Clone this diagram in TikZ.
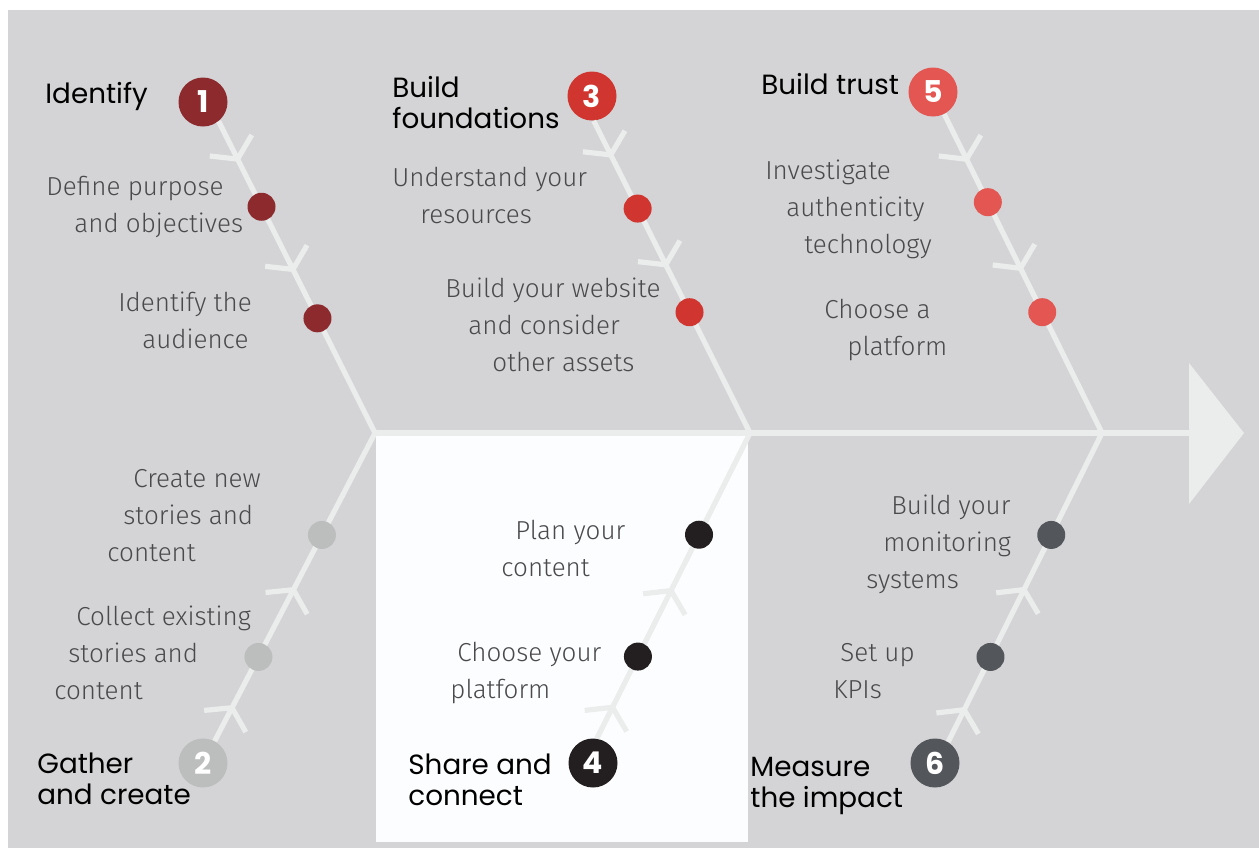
\documentclass[tikz,border=0pt]{standalone}
\usepackage{fontspec}
\setmainfont{Fira Sans Light}
\newfontfamily\headfont{Poppins}
\usetikzlibrary{arrows.meta,decorations.markings}
\definecolor{Grund}{HTML}{D4D4D6}
\definecolor{Feld}{HTML}{FCFDFE}
\definecolor{BoneC}{HTML}{EBECEC}
\definecolor{TxtC}{HTML}{4A4A4C}
\definecolor{C1}{HTML}{8C2A2E}
\definecolor{C2}{HTML}{BCBDBD}
\definecolor{C3}{HTML}{D0352F}
\definecolor{C4}{HTML}{231F20}
\definecolor{C5}{HTML}{E35651}
\definecolor{C6}{HTML}{53565A}
\tikzset{
  Bone/.style={color=BoneC, line width=2.6pt}, % Graeten
  Chev/.style 2 args={postaction=decorate, decoration={markings,
      mark=at position #1 with {\arrow{Straight Barb[angle=114:14pt]}},
      mark=at position #2 with {\arrow{Straight Barb[angle=114:14pt]}}}},
  Dot/.style={circle, inner sep=0pt, minimum size=14pt},
  Num/.style={circle, inner sep=0pt, minimum size=24.5pt, text=white,
      font=\headfont\bfseries\fontsize{15}{15}\selectfont},
  Head/.style={anchor=base west, inner sep=0pt, align=left,
      font=\headfont\fontsize{13.9}{15.5}\selectfont},
  Txt/.style={anchor=base west, inner sep=0pt, align=left, text=TxtC,
      font=\fontsize{13}{18.5}\selectfont}
}

\begin{document}
\begin{tikzpicture}[x=0.5pt, y=-0.5pt]
\useasboundingbox (0,0) rectangle (1259,848);

% background
\fill[Grund] (8,10) rectangle (1259,848);
\fill[Feld] (376,433) rectangle (748,842);

% numbered circles
\node[Num, fill=C1] (n1) at (203,102) {1};
\node[Num, fill=C2] (n2) at (203,763) {2};
\node[Num, fill=C3] (n3) at (592,96) {3};
\node[Num, fill=C4] (n4) at (593,763) {4};
\node[Num, fill=C5] (n5) at (933,92) {5};
\node[Num, fill=C6] (n6) at (935,763) {6};

% spine
\coordinate (j1) at (375,433);
\coordinate (j2) at (750,433);
\coordinate (j3) at (1102,433);
\coordinate (sp) at (1190,433);
\draw[Bone] (j1) -- (sp);
\fill[BoneC] (1189,363) -- (1244,433) -- (1189,504) -- cycle;

% bones
\draw[Bone, Chev={0.13}{0.484}] (n1.-51) -- node[Dot, fill=C1, pos=.274] (d11) {} node[Dot, fill=C1, pos=.632] (d12) {} (j1);
\draw[Bone, Chev={0.118}{0.47}] (n3.-86) -- node[Dot, fill=C3, pos=.281] (d31) {} node[Dot, fill=C3, pos=.613] (d32) {} (j2);
\draw[Bone, Chev={0.15}{0.492}] (n5.-63) -- node[Dot, fill=C5, pos=.276] (d51) {} node[Dot, fill=C5, pos=.621] (d52) {} (j3);
\draw[Bone, Chev={0.117}{0.5}] (n2.62) -- node[Dot, fill=C2, pos=.273] (d21) {} node[Dot, fill=C2, pos=.669] (d22) {} (j1);
\draw[Bone, Chev={0.111}{0.493}] (n4.81) -- node[Dot, fill=C4, pos=.268] (d41) {} node[Dot, fill=C4, pos=.667] (d42) {} (j2);
\draw[Bone, Chev={0.113}{0.502}] (n6.58) -- node[Dot, fill=C6, pos=.275] (d61) {} node[Dot, fill=C6, pos=.67] (d62) {} (j3);

% titles (base = last line)
\node[Head] (t1) at (45,103) {Identify};
\node[Head] (t3) at (392,128) {Build\\foundations};
\node[Head] (t5) at (761,94) {Build trust};
\node[Head] (t2) at (37,804) {Gather\\and create};
\node[Head] (t4) at (408,805) {Share and\\connect};
\node[Head] (t6) at (750,807) {Measure\\the impact};

% steps (base = last line)
\node[Txt] (s11) at (46,232) {Define purpose\\\hspace*{14pt}and objectives};
\node[Txt] (s12) at (118,348) {Identify the\\\hspace*{12pt}audience};
\node[Txt] (s31) at (392,223) {Understand your\\\hspace*{14pt}resources};
\node[Txt] (s32) at (445,371) {Build your website\\\hspace*{11.5pt}and consider\\\hspace*{23.5pt}other assets};
\node[Txt] (s51) at (765,253) {Investigate\\\hspace*{10.5pt}authenticity\\\hspace*{19.5pt}technology};
\node[Txt] (s52) at (824,355) {Choose a\\\hspace*{11.5pt}platform};
\node[Txt] (s21) at (107,561) {\hspace*{13pt}Create new\\\hspace*{8pt}stories and\\content};
\node[Txt] (s22) at (54,699) {\hspace*{11pt}Collect existing\\\hspace*{7pt}stories and\\content};
\node[Txt] (s41) at (501,576) {\hspace*{7pt}Plan your\\content};
\node[Txt] (s42) at (450,698) {\hspace*{3.5pt}Choose your\\platform};
\node[Txt] (s61) at (866,588) {\hspace*{12.5pt}Build your\\\hspace*{8.5pt}monitoring\\systems};
\node[Txt] (s62) at (833,698) {\hspace*{3.5pt}Set up\\KPIs};

\end{tikzpicture}
\end{document}
